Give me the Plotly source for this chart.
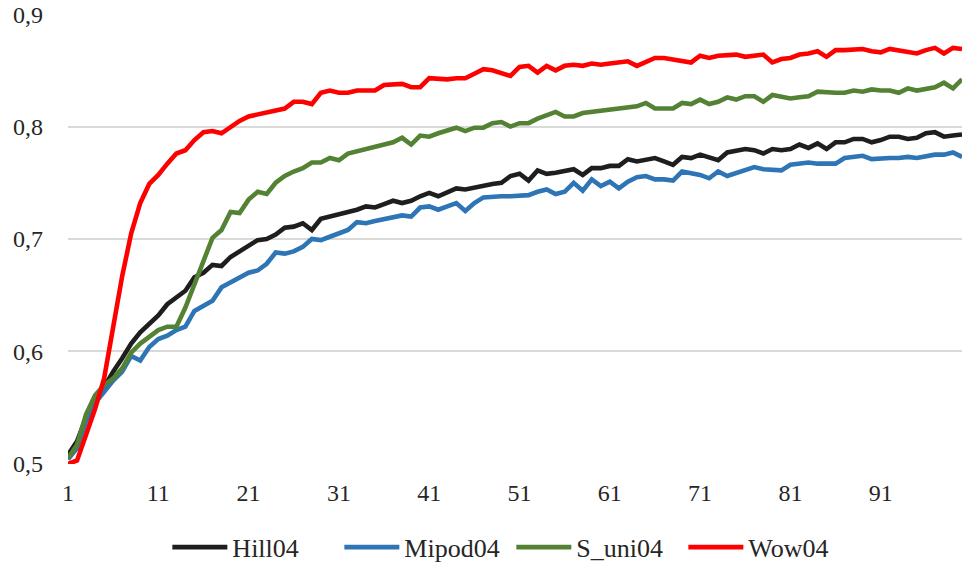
import plotly.graph_objects as go

x_vals = list(range(1, 101))
x_ticks = [1, 11, 21, 31, 41, 51, 61, 71, 81, 91]
y_ticks = [0.5, 0.6, 0.7, 0.8, 0.9]
y_tick_text = ["0,5", "0,6", "0,7", "0,8", "0,9"]

hill04 = [0.508, 0.520, 0.541, 0.555, 0.567, 0.582, 0.594, 0.607, 0.617, 0.624,
          0.632, 0.642, 0.648, 0.654, 0.666, 0.670, 0.677, 0.676, 0.684, 0.689,
          0.695, 0.699, 0.700, 0.704, 0.710, 0.711, 0.714, 0.708, 0.718, 0.720,
          0.721, 0.723, 0.726, 0.729, 0.728, 0.731, 0.734, 0.732, 0.734, 0.738,
          0.741, 0.738, 0.742, 0.745, 0.744, 0.746, 0.747, 0.749, 0.750, 0.756,
          0.758, 0.752, 0.761, 0.758, 0.759, 0.760, 0.762, 0.757, 0.763, 0.763,
          0.765, 0.765, 0.771, 0.769, 0.771, 0.772, 0.769, 0.766, 0.773, 0.772,
          0.775, 0.773, 0.770, 0.777, 0.779, 0.780, 0.779, 0.776, 0.780, 0.779,
          0.780, 0.784, 0.781, 0.785, 0.780, 0.786, 0.786, 0.789, 0.789, 0.786,
          0.788, 0.791, 0.791, 0.789, 0.790, 0.794, 0.795, 0.791, 0.792, 0.793]

mipod04 = [0.504, 0.514, 0.538, 0.554, 0.564, 0.574, 0.582, 0.596, 0.592, 0.604,
           0.611, 0.614, 0.619, 0.622, 0.636, 0.641, 0.645, 0.657, 0.661, 0.666,
           0.670, 0.672, 0.678, 0.688, 0.687, 0.689, 0.693, 0.700, 0.699, 0.702,
           0.705, 0.708, 0.715, 0.714, 0.716, 0.718, 0.719, 0.721, 0.720, 0.728,
           0.729, 0.726, 0.729, 0.732, 0.725, 0.732, 0.737, 0.738, 0.738, 0.738,
           0.739, 0.739, 0.742, 0.744, 0.740, 0.742, 0.750, 0.743, 0.753, 0.747,
           0.751, 0.745, 0.751, 0.755, 0.756, 0.753, 0.753, 0.752, 0.760, 0.759,
           0.757, 0.754, 0.760, 0.756, 0.759, 0.761, 0.764, 0.762, 0.762, 0.761,
           0.766, 0.767, 0.768, 0.767, 0.767, 0.767, 0.772, 0.773, 0.774, 0.771,
           0.772, 0.772, 0.772, 0.773, 0.772, 0.774, 0.775, 0.775, 0.777, 0.773]

s_uni04 = [0.505, 0.517, 0.544, 0.561, 0.570, 0.576, 0.585, 0.599, 0.607, 0.613,
           0.619, 0.622, 0.622, 0.639, 0.660, 0.679, 0.701, 0.708, 0.724, 0.723,
           0.735, 0.742, 0.740, 0.750, 0.756, 0.760, 0.763, 0.768, 0.768, 0.772,
           0.770, 0.776, 0.778, 0.780, 0.781, 0.783, 0.786, 0.790, 0.784, 0.792,
           0.791, 0.794, 0.796, 0.799, 0.796, 0.799, 0.799, 0.803, 0.804, 0.800,
           0.803, 0.803, 0.807, 0.810, 0.813, 0.809, 0.809, 0.812, 0.813, 0.814,
           0.815, 0.816, 0.817, 0.818, 0.821, 0.816, 0.816, 0.816, 0.821, 0.820,
           0.824, 0.820, 0.822, 0.826, 0.824, 0.827, 0.827, 0.822, 0.828, 0.826,
           0.825, 0.826, 0.827, 0.831, 0.830, 0.830, 0.830, 0.832, 0.831, 0.833,
           0.832, 0.832, 0.830, 0.834, 0.832, 0.834, 0.835, 0.839, 0.834, 0.842]

wow04 = [0.500, 0.503, 0.526, 0.549, 0.576, 0.620, 0.667, 0.705, 0.732, 0.749,
         0.757, 0.767, 0.776, 0.779, 0.788, 0.795, 0.796, 0.794, 0.800, 0.805,
         0.809, 0.811, 0.813, 0.815, 0.816, 0.822, 0.822, 0.820, 0.830, 0.832,
         0.830, 0.830, 0.832, 0.832, 0.832, 0.837, 0.837, 0.838, 0.835, 0.835,
         0.843, 0.842, 0.842, 0.843, 0.843, 0.847, 0.851, 0.850, 0.848, 0.845,
         0.853, 0.854, 0.848, 0.854, 0.850, 0.854, 0.855, 0.854, 0.856, 0.855,
         0.856, 0.857, 0.858, 0.854, 0.858, 0.861, 0.861, 0.860, 0.859, 0.857,
         0.863, 0.861, 0.863, 0.863, 0.864, 0.862, 0.863, 0.864, 0.857, 0.860,
         0.861, 0.864, 0.865, 0.867, 0.862, 0.868, 0.868, 0.868, 0.869, 0.867,
         0.866, 0.869, 0.868, 0.867, 0.865, 0.868, 0.870, 0.865, 0.870, 0.869]

series_names = ["Hill04", "Mipod04", "S_uni04", "Wow04"]
series_values = [hill04, mipod04, s_uni04, wow04]
series_colors = ["#1e1e1e", "#2e75b6", "#548235", "#ff0000"]

fig = go.Figure()
for name, vals, col in zip(series_names, series_values, series_colors):
    fig.add_trace(go.Scatter(x=x_vals, y=vals, mode="lines", name=name,
                             line=dict(color=col, width=4.6)))

FONT = "Liberation Serif, Times New Roman, serif"
fig.update_layout(
    width=963, height=570,
    margin=dict(l=68, r=1, t=14, b=106),
    paper_bgcolor="white", plot_bgcolor="white",
    font=dict(family=FONT, size=24, color="#262626"),
    showlegend=True,
    legend=dict(orientation="h", xref="container", yref="container",
                x=0.531, xanchor="center", y=0.04, yanchor="middle",
                font=dict(family=FONT, size=26, color="#262626"),
                itemwidth=55, entrywidth=102, entrywidthmode="pixels",
                tracegroupgap=0),
    xaxis=dict(range=[1, 100], tickvals=x_ticks, ticktext=[str(t) for t in x_ticks],
               showgrid=False, zeroline=False, showline=False, ticks="",
               ticklabelstandoff=12),
    yaxis=dict(range=[0.4999, 0.9001], tickvals=y_ticks, ticktext=y_tick_text,
               showgrid=True, gridcolor="#d9d9d9", gridwidth=1.5,
               zeroline=False, showline=False, ticks="",
               ticklabelstandoff=24),
)

fig.write_html("out.html")
